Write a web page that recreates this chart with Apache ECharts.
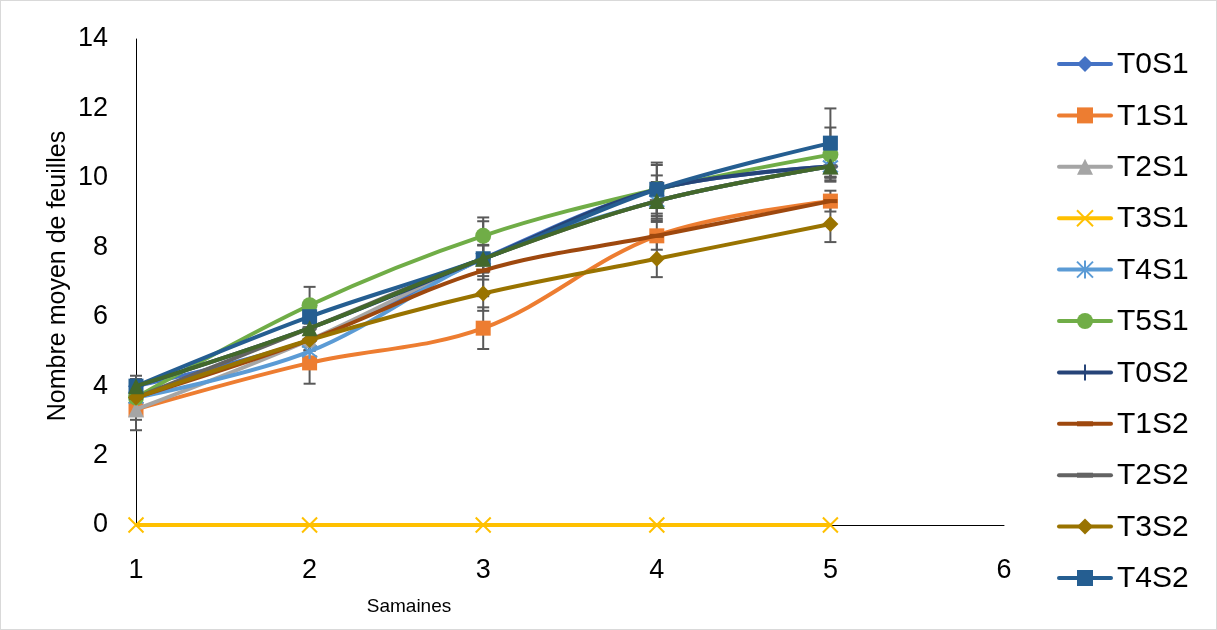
<!DOCTYPE html>
<html>
<head>
<meta charset="utf-8">
<script src="https://cdn.jsdelivr.net/npm/echarts@6/dist/echarts.min.js"></script>
<style>
html,body{margin:0;padding:0;background:#fff;}
#chart{width:1217px;height:630px;box-sizing:border-box;border:1px solid #d9d9d9;}
</style>
</head>
<body>
<div id="chart"></div>
<script>
const weeks = [1, 2, 3, 4, 5];
const seriesNames = ['T0S1','T1S1','T2S1','T3S1','T4S1','T5S1','T0S2','T1S2','T2S2','T3S2','T4S2','T5S2'];
const legendNames = ['T0S1','T1S1','T2S1','T3S1','T4S1','T5S1','T0S2','T1S2','T2S2','T3S2','T4S2'];
const T0S1 = [4.0, 5.33, 7.67, 9.67, 10.33];
const T1S1 = [3.33, 4.67, 5.67, 8.33, 9.33];
const T2S1 = [3.33, 5.33, 7.67, 9.33, 10.33];
const T3S1 = [0, 0, 0, 0, 0];
const T4S1 = [3.67, 5.0, 7.67, 9.33, 10.33];
const T5S1 = [3.67, 6.33, 8.33, 9.67, 10.67];
const T0S2 = [4.0, 5.67, 7.67, 9.67, 10.33];
const T1S2 = [3.67, 5.33, 7.33, 8.33, 9.33];
const T2S2 = [3.67, 5.67, 7.67, 9.33, 10.33];
const T3S2 = [3.67, 5.33, 6.67, 7.67, 8.67];
const T4S2 = [4.0, 6.0, 7.67, 9.67, 11.0];
const T5S2 = [4.0, 5.67, 7.67, 9.33, 10.33];
// error bar half-widths (±)
const errT0S1 = [0.3, 0.3, 0.6, 0.7, 0.3];
const errT1S1 = [0.3, 0.6, 0.6, 0.4, 0.3];
const errT2S1 = [0.6, 0.3, 0.38, 0.5, 0.4];
const errT5S1 = [0.3, 0.53, 0.53, 0.4, 0.78];
const errT3S2 = [0.2, 0.3, 0.5, 0.53, 0.52];
const errT4S2 = [0.2, 0.3, 1.08, 0.77, 1.0];
const errT5S2 = [0.2, 0.3, 0.4, 0.55, 0.3];
const yTicks = [0, 2, 4, 6, 8, 10, 12, 14];
const xTicks = [1, 2, 3, 4, 5, 6];

const values = [T0S1,T1S1,T2S1,T3S1,T4S1,T5S1,T0S2,T1S2,T2S2,T3S2,T4S2,T5S2];
const errors = {T0S1: errT0S1, T1S1: errT1S1, T2S1: errT2S1, T5S1: errT5S1, T3S2: errT3S2, T4S2: errT4S2, T5S2: errT5S2};
const colors = ['#4472C4','#ED7D31','#A5A5A5','#FFC000','#5B9BD5','#70AD47','#264478','#9E480E','#636363','#997300','#255E91','#43682B'];
const markerTypes = ['diamond','square','triangle','x','star','circle','plus','dash','dash','diamond','square','triangle'];

const xPath = 'path://M0,0L10,10M10,0L0,10';
const starPath = 'path://M0,0L10,10M10,0L0,10M5,-1.5L5,11.5';
const plusPath = 'path://M5,0L5,10M0,5L10,5';
function symbolFor(t) {
  switch (t) {
    case 'diamond': return {s: 'diamond', size: 16};
    case 'square': return {s: 'rect', size: 15};
    case 'triangle': return {s: 'triangle', size: 16};
    case 'x': return {s: xPath, size: 15, stroke: true};
    case 'star': return {s: starPath, size: 15, stroke: true};
    case 'circle': return {s: 'circle', size: 16};
    case 'plus': return {s: plusPath, size: 14, stroke: true};
    case 'dash': return {s: 'rect', size: [14, 4]};
  }
}

const chart = echarts.init(document.getElementById('chart'));
const series = [];

// error bars first (drawn under lines)
seriesNames.forEach((name, i) => {
  const err = errors[name];
  if (!err) return;
  const data = weeks.map((w, k) => [w, values[i][k] - err[k], values[i][k] + err[k]]);
  series.push({
    type: 'custom',
    name: name + '_err',
    z: 1,
    silent: true,
    data: data,
    renderItem: function (params, api) {
      const x = api.value(0);
      const lo = api.coord([x, api.value(1)]);
      const hi = api.coord([x, api.value(2)]);
      const hw = 6;
      const st = {stroke: '#595959', lineWidth: 2};
      return {
        type: 'group',
        children: [
          {type: 'line', shape: {x1: lo[0], y1: lo[1], x2: hi[0], y2: hi[1]}, style: st},
          {type: 'line', shape: {x1: lo[0]-hw, y1: lo[1], x2: lo[0]+hw, y2: lo[1]}, style: st},
          {type: 'line', shape: {x1: hi[0]-hw, y1: hi[1], x2: hi[0]+hw, y2: hi[1]}, style: st}
        ]
      };
    }
  });
});

seriesNames.forEach((name, i) => {
  const sym = symbolFor(markerTypes[i]);
  series.push({
    type: 'line',
    name: name,
    z: 2 + i,
    smooth: 0.35,
    data: weeks.map((w, k) => [w, values[i][k]]),
    symbol: sym.s,
    symbolSize: sym.size,
    showAllSymbol: true,
    lineStyle: {color: colors[i], width: 4},
    itemStyle: sym.stroke
      ? {color: 'rgba(255,255,255,0)', borderColor: colors[i], borderWidth: 2}
      : {color: colors[i], borderWidth: 0},
    emphasis: {disabled: true},
    animation: false
  });
});

// hand-built legend (line + marker + text)
function legendMarker(t, cx, cy, c) {
  const st = {fill: c};
  const ln = {stroke: c, lineWidth: 2};
  switch (t) {
    case 'diamond': return [{type: 'polygon', shape: {points: [[cx, cy-8],[cx+8, cy],[cx, cy+8],[cx-8, cy]]}, style: st}];
    case 'square': return [{type: 'rect', shape: {x: cx-8, y: cy-8, width: 16, height: 16}, style: st}];
    case 'triangle': return [{type: 'polygon', shape: {points: [[cx, cy-8],[cx+8, cy+8],[cx-8, cy+8]]}, style: st}];
    case 'circle': return [{type: 'circle', shape: {cx: cx, cy: cy, r: 8}, style: st}];
    case 'x': return [
      {type: 'line', shape: {x1: cx-8, y1: cy-8, x2: cx+8, y2: cy+8}, style: ln},
      {type: 'line', shape: {x1: cx+8, y1: cy-8, x2: cx-8, y2: cy+8}, style: ln}];
    case 'star': return [
      {type: 'line', shape: {x1: cx-8, y1: cy-8, x2: cx+8, y2: cy+8}, style: ln},
      {type: 'line', shape: {x1: cx+8, y1: cy-8, x2: cx-8, y2: cy+8}, style: ln},
      {type: 'line', shape: {x1: cx, y1: cy-9, x2: cx, y2: cy+9}, style: ln}];
    case 'plus': return [{type: 'line', shape: {x1: cx, y1: cy-8, x2: cx, y2: cy+8}, style: ln}];
    case 'dash': return [{type: 'rect', shape: {x: cx-8, y: cy-2.5, width: 16, height: 5}, style: st}];
  }
  return [];
}
const legendGraphics = [];
legendNames.forEach((name, k) => {
  const i = seriesNames.indexOf(name);
  const cy = 63 + 51.4 * k;
  legendGraphics.push({type: 'line', shape: {x1: 1058, y1: cy, x2: 1110, y2: cy}, style: {stroke: colors[i], lineWidth: 4, lineCap: 'round'}});
  legendMarker(markerTypes[i], 1084, cy, colors[i]).forEach(g => legendGraphics.push(g));
  legendGraphics.push({type: 'text', x: 1116, y: cy + 1, style: {text: name, font: '30px "Liberation Sans"', fill: '#000', textVerticalAlign: 'middle'}});
});

chart.setOption({
  animation: false,
  color: colors,
  grid: {left: 135, right: 212, top: 38, bottom: 104, containLabel: false},
  xAxis: {
    type: 'value', min: 1, max: 6, interval: 1,
    axisLine: {show: true, onZero: false, lineStyle: {color: '#000', width: 1}},
    axisTick: {show: false},
    splitLine: {show: false},
    axisLabel: {color: '#000', fontSize: 27, fontFamily: 'Liberation Sans', margin: 32,
      formatter: v => xTicks.includes(v) ? String(v) : ''}
  },
  yAxis: {
    type: 'value', min: 0, max: 14, interval: 2,
    axisLine: {show: true, lineStyle: {color: '#000', width: 1}},
    axisTick: {show: false},
    splitLine: {show: false},
    axisLabel: {color: '#000', fontSize: 27, fontFamily: 'Liberation Sans', margin: 28,
      formatter: v => yTicks.includes(v) ? String(v) : ''}
  },
  graphic: [
    {type: 'text', x: 408, y: 606, style: {text: 'Samaines', font: '19px "Liberation Sans"', fill: '#000', textAlign: 'center', textVerticalAlign: 'middle'}},
    {type: 'text', rotation: Math.PI / 2, x: 57, y: 275, style: {text: 'Nombre moyen de feuilles', font: '25px "Liberation Sans"', fill: '#000', textAlign: 'center', textVerticalAlign: 'middle'}}
  ].concat(legendGraphics),
  series: series
});
</script>
</body>
</html>
